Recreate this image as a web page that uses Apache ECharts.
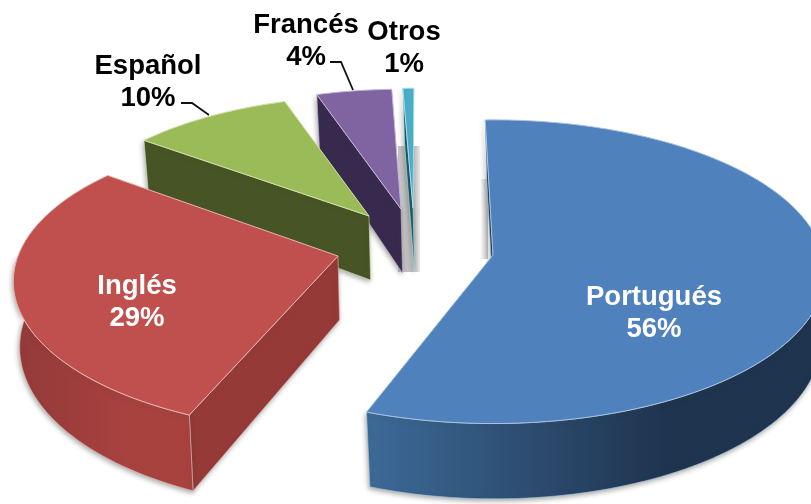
<!DOCTYPE html>
<html>
<head>
<meta charset="utf-8">
<style>html,body{margin:0;padding:0;background:#fff}#c{width:811px;height:504px}</style>
<script src="https://cdn.jsdelivr.net/npm/echarts@6/dist/echarts.min.js"></script>
</head>
<body>
<div id="c"></div>
<script>
const categories = ['Portugués', 'Inglés', 'Español', 'Francés', 'Otros'];
const values = [56, 29, 10, 4, 1];

// Drawing style and layout, separate from the data
const topColors = ['#4f81bd', '#c0504d', '#9bbb59', '#8064a2', '#4bacc6'];
const edgeColors = ['#a9c3e2', '#eab4b1', '#cfe0a8', '#c4b5d8', '#a9dbe8'];
const cutColors = ['#1c3550', '#963a38', '#475425', '#382a4e', '#1d5868'];
const wallStops = [['#3d6a98', '#1f344f'], ['#a8423f', '#93393a'], ['#475425', '#475425'], ['#382a4e', '#382a4e'], ['#1d5868', '#1d5868']];
const apexX = [493, 338, 369, 401, 413];
const apexY = [255, 256, 216, 209, 208];
const radiusX = [330, 320, 308, 308, 308];
const radiusY = [150, 146, 140, 140, 140];
const perspective = [0.11, 0.169, 0.169, 0.169, 0.169];
const depths = [67, 64, 64, 64, 64];
const startTweak = [0, 3, 2, 1, 2.9];
const endTweak = [0, 3, 1, 3.1, 1.7];
const labelX = [654, 137, 148, 306, 404];
const labelY = [313, 302, 82, 41, 48];
const labelColors = ['#fff', '#fff', '#000', '#000', '#000'];
const leaders = [null, null, [[181, 103], [192, 103], [209, 115]], [[330, 62], [341, 62], [353, 90]], null];

const firstAngle = -1.5, baseShrink = 0.985;
const total = values.reduce((a, b) => a + b, 0);

function sliceAngles(i) {
  let before = 0;
  for (let k = 0; k < i; k++) before += values[k];
  return [firstAngle + before / total * 360 + startTweak[i],
          firstAngle + (before + values[i]) / total * 360 + endTweak[i]];
}
function rimTop(i, deg) {
  const t = deg * Math.PI / 180, u = Math.sin(t), v = -Math.cos(t), s = 1 / (1 - perspective[i] * v);
  return [apexX[i] + radiusX[i] * u * s, apexY[i] + radiusY[i] * v * s];
}
function rimBase(i, deg) {
  const t = deg * Math.PI / 180, v = -Math.cos(t), s = 1 / (1 - perspective[i] * v), p = rimTop(i, deg);
  return [apexX[i] + (p[0] - apexX[i]) * baseShrink + 1.5, p[1] + depths[i] * s];
}
function arcPoints(i, a, b, fn) {
  const pts = [], n = Math.max(2, Math.ceil(Math.abs(b - a) / 1.5));
  for (let k = 0; k <= n; k++) pts.push(fn(i, a + (b - a) * k / n));
  return pts;
}
const softShadow = { shadowBlur: 5, shadowColor: 'rgba(60,70,60,0.45)', shadowOffsetX: -1, shadowOffsetY: 2 };

function renderItem(params, api) {
  const i = params.dataIndex, z = (values.length - i) * 10;
  const [a, b] = sliceAngles(i);
  const apex = [apexX[i], apexY[i]], apexBase = [apexX[i] + 1.5, apexY[i] + depths[i]];
  const kids = [];
  // faint backdrop shadows of the narrow far slices
  if (i === 4) {
    kids.push({ type: 'rect', z2: 1, shape: { x: apexX[i] - 15, y: apexY[i] - 62, width: 22, height: 126 },
      style: { fill: { type: 'linear', x: 0, y: 0, x2: 1, y2: 0, colorStops: [{ offset: 0, color: '#c4c4c4' }, { offset: 0.75, color: '#bdbdbd' }, { offset: 1, color: '#e8e8e8' }] } } });
  }
  if (i === 0) {
    kids.push({ type: 'rect', z2: 1, shape: { x: apexX[i] - 13, y: apexY[i] - 76, width: 8, height: 80 },
      style: { fill: { type: 'linear', x: 0, y: 0, x2: 1, y2: 0, colorStops: [{ offset: 0, color: '#ffffff' }, { offset: 1, color: '#bcbcbc' }] } } });
  }
  // visible cut face (the one at the slice's start edge)
  const s0 = rimTop(i, a);
  if (s0[0] < apex[0]) {
    kids.push({ type: 'polygon', z2: z + 1, shape: { points: [apex, s0, rimBase(i, a), apexBase] },
      style: Object.assign({ fill: cutColors[i], stroke: edgeColors[i], lineWidth: 0.6 }, softShadow) });
  }
  // outer wall, only the side facing the viewer
  const wa = Math.max(a, 90), wb = Math.min(b, 270);
  if (wb > wa) {
    const pts = arcPoints(i, wa, wb, rimTop).concat(arcPoints(i, wb, wa, rimBase));
    const st = wallStops[i];
    const fromLeft = i === 0 ? [st[0], st[1]] : [st[1], st[0]];
    kids.push({ type: 'polygon', z2: z + 2, shape: { points: pts },
      style: Object.assign({ fill: { type: 'linear', x: 0, y: 0, x2: 1, y2: 0, colorStops: [{ offset: 0, color: fromLeft[0] }, { offset: 0.65, color: fromLeft[1] }, { offset: 1, color: fromLeft[1] }] }, stroke: edgeColors[i], lineWidth: 0.6 }, softShadow) });
  }
  // top surface
  kids.push({ type: 'polygon', z2: z + 3, shape: { points: [apex].concat(arcPoints(i, a, b, rimTop)) },
    style: { fill: topColors[i], stroke: edgeColors[i], lineWidth: 1 } });
  // leader line and label
  if (leaders[i]) {
    kids.push({ type: 'polyline', z2: 200, shape: { points: leaders[i] }, style: { fill: 'none', stroke: '#111', lineWidth: 1.8 } });
  }
  kids.push({ type: 'text', z2: 300, x: labelX[i], y: labelY[i], style: {
    text: categories[i] + '\n' + Math.round(api.value(0)) + '%', fill: labelColors[i],
    font: 'bold 27.5px "Liberation Sans", Arial, sans-serif', lineHeight: 32, align: 'center', verticalAlign: 'middle' } });
  return { type: 'group', children: kids };
}

const chart = echarts.init(document.getElementById('c'), null, { renderer: 'canvas' });
chart.setOption({
  backgroundColor: '#ffffff',
  animation: false,
  series: [{ type: 'custom', coordinateSystem: 'none', renderItem,
    data: categories.map((c, i) => ({ name: c, value: [values[i]] })) }]
});
</script>
</body>
</html>
